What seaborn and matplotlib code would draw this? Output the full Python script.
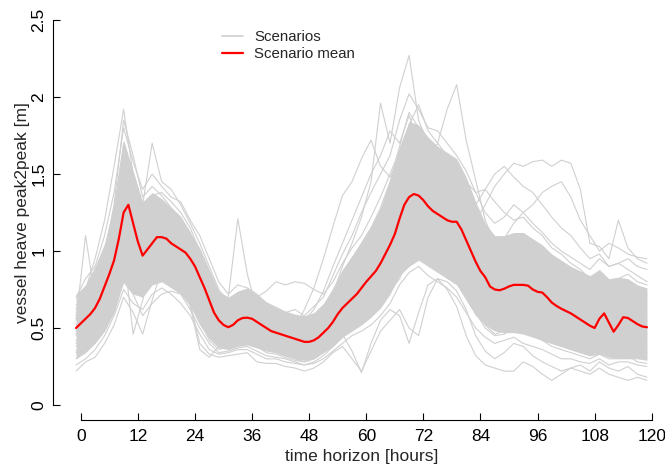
import numpy as np
import pandas as pd
import matplotlib
matplotlib.use('Agg')
import matplotlib.pyplot as plt
from matplotlib.lines import Line2D
import seaborn as sns

# ── Data ─────────────────────────────────────────────────────
hours = np.arange(0, 121)        # hourly grid for the mean
hours2 = np.arange(0, 121, 2)    # 2-hourly grid for scenarios / band

mean_heave = [
    0.50, 0.53, 0.56, 0.59, 0.63, 0.69, 0.77, 0.85, 0.94, 1.08,
    1.25, 1.30, 1.18, 1.06, 0.97, 1.01, 1.05, 1.09, 1.09, 1.08,
    1.05, 1.03, 1.01, 0.99, 0.95, 0.90, 0.83, 0.76, 0.68, 0.60,
    0.55, 0.52, 0.505, 0.52, 0.55, 0.565, 0.567, 0.56, 0.54, 0.52,
    0.50, 0.48, 0.47, 0.46, 0.45, 0.44, 0.43, 0.42, 0.41, 0.41,
    0.42, 0.44, 0.47, 0.50, 0.54, 0.59, 0.63, 0.66, 0.69, 0.72,
    0.76, 0.80, 0.835, 0.87, 0.92, 0.98, 1.04, 1.11, 1.21, 1.30,
    1.35, 1.37, 1.36, 1.33, 1.29, 1.26, 1.24, 1.22, 1.20, 1.19,
    1.19, 1.14, 1.07, 1.00, 0.93, 0.87, 0.83, 0.77, 0.75, 0.745,
    0.755, 0.77, 0.78, 0.78, 0.78, 0.775, 0.75, 0.735, 0.73, 0.70,
    0.665, 0.643, 0.625, 0.61, 0.595, 0.575, 0.555, 0.535, 0.515, 0.50,
    0.56, 0.595, 0.535, 0.476, 0.52, 0.57, 0.565, 0.545, 0.525, 0.51,
    0.505]

# dense core of the scenario bundle (lower / upper edge)
core_low = [
    0.30, 0.34, 0.40, 0.48, 0.60, 0.80, 0.72, 0.70, 0.78, 0.80,
    0.76, 0.72, 0.64, 0.52, 0.43, 0.37, 0.36, 0.38, 0.39, 0.37,
    0.35, 0.34, 0.32, 0.30, 0.29, 0.30, 0.34, 0.38, 0.44, 0.48,
    0.52, 0.57, 0.63, 0.72, 0.84, 0.90, 0.94, 0.90, 0.86, 0.82,
    0.78, 0.68, 0.58, 0.52, 0.48, 0.47, 0.47, 0.46, 0.44, 0.42,
    0.40, 0.38, 0.36, 0.34, 0.32, 0.33, 0.31, 0.30, 0.30, 0.30,
    0.29]
core_high = [
    0.72, 0.78, 0.90, 1.05, 1.30, 1.72, 1.52, 1.32, 1.38, 1.34,
    1.28, 1.22, 1.12, 1.02, 0.88, 0.74, 0.70, 0.74, 0.76, 0.72,
    0.67, 0.64, 0.61, 0.59, 0.58, 0.60, 0.66, 0.76, 0.88, 0.97,
    1.06, 1.16, 1.28, 1.46, 1.68, 1.84, 1.82, 1.74, 1.68, 1.64,
    1.60, 1.48, 1.32, 1.18, 1.10, 1.10, 1.12, 1.12, 1.08, 1.04,
    0.98, 0.94, 0.90, 0.87, 0.84, 0.88, 0.82, 0.83, 0.82, 0.78,
    0.76]

# individual scenarios (2-hourly)
scen_01 = [0.62, 0.75, 0.95, 1.20, 1.55, 1.92, 1.50, 1.30, 1.70, 1.45,
           1.40, 1.30, 1.18, 1.05, 0.90, 0.75, 0.66, 0.70, 0.72, 0.66,
           0.60, 0.55, 0.52, 0.50, 0.48, 0.50, 0.56, 0.66, 0.78, 0.88,
           1.00, 1.12, 1.25, 1.38, 1.55, 1.70, 1.62, 1.50, 1.45, 1.42,
           1.38, 1.25, 1.05, 0.92, 0.85, 0.88, 0.92, 0.90, 0.86, 0.82,
           0.76, 0.72, 0.70, 0.66, 0.62, 0.68, 0.60, 0.64, 0.68, 0.62,
           0.60]
scen_02 = [0.22, 0.28, 0.31, 0.40, 0.52, 0.70, 0.60, 0.46, 0.68, 0.88,
           0.82, 0.79, 0.66, 0.40, 0.33, 0.31, 0.32, 0.33, 0.34, 0.28,
           0.27, 0.27, 0.25, 0.24, 0.22, 0.24, 0.28, 0.34, 0.38, 0.30,
           0.22, 0.35, 0.48, 0.55, 0.62, 0.50, 0.45, 0.70, 0.82, 0.75,
           0.64, 0.45, 0.32, 0.26, 0.24, 0.22, 0.22, 0.28, 0.25, 0.20,
           0.16, 0.20, 0.24, 0.22, 0.20, 0.24, 0.20, 0.18, 0.16, 0.18,
           0.16]
scen_03 = [0.55, 1.10, 0.70, 0.78, 0.92, 1.18, 1.10, 0.95, 1.05, 1.15,
           1.10, 1.02, 0.95, 0.82, 0.68, 0.56, 0.70, 1.21, 0.85, 0.62,
           0.55, 0.52, 0.48, 0.44, 0.42, 0.46, 0.50, 0.58, 0.66, 0.74,
           0.82, 0.90, 0.98, 1.08, 1.20, 1.35, 1.30, 1.22, 1.15, 1.12,
           1.08, 0.95, 0.80, 0.70, 0.62, 0.66, 0.72, 0.68, 0.64, 0.60,
           0.55, 0.52, 0.50, 0.48, 0.46, 0.50, 0.46, 0.48, 0.52, 0.48,
           0.46]
scen_04 = [0.48, 0.55, 0.62, 0.80, 1.00, 1.35, 1.20, 0.98, 1.10, 1.15,
           1.08, 1.02, 0.96, 0.85, 0.70, 0.56, 0.50, 0.55, 0.58, 0.55,
           0.50, 0.48, 0.46, 0.45, 0.44, 0.48, 0.56, 0.72, 0.90, 1.05,
           1.22, 1.45, 1.96, 1.70, 2.06, 2.27, 1.85, 1.70, 1.62, 1.55,
           1.45, 1.30, 1.10, 0.95, 0.88, 0.90, 0.95, 0.92, 0.85, 0.80,
           0.72, 0.66, 0.62, 0.58, 0.55, 0.60, 0.56, 0.58, 0.60, 0.56,
           0.55]
scen_05 = [0.40, 0.46, 0.55, 0.68, 0.85, 1.10, 1.05, 0.90, 0.98, 1.02,
           1.00, 0.95, 0.90, 0.78, 0.62, 0.50, 0.46, 0.50, 0.52, 0.50,
           0.46, 0.44, 0.42, 0.40, 0.38, 0.40, 0.45, 0.52, 0.62, 0.70,
           0.80, 0.90, 1.02, 1.15, 1.35, 1.52, 1.60, 1.58, 1.70, 1.92,
           2.08, 1.72, 1.46, 1.20, 1.05, 1.00, 1.05, 1.10, 1.02, 0.95,
           0.88, 0.82, 0.78, 0.72, 0.68, 0.74, 0.66, 0.70, 0.72, 0.66,
           0.64]
scen_06 = [0.58, 0.64, 0.72, 0.88, 1.08, 1.40, 1.30, 1.12, 1.18, 1.22,
           1.18, 1.12, 1.05, 0.92, 0.78, 0.62, 0.58, 0.62, 0.64, 0.60,
           0.56, 0.52, 0.50, 0.48, 0.46, 0.48, 0.54, 0.64, 0.74, 0.84,
           0.95, 1.05, 1.18, 1.30, 1.48, 1.62, 1.58, 1.50, 1.44, 1.40,
           1.35, 1.28, 1.20, 1.30, 1.42, 1.50, 1.57, 1.55, 1.58, 1.59,
           1.55, 1.59, 1.57, 1.40, 1.05, 1.03, 0.95, 1.20, 1.02, 0.95,
           0.92]
scen_07 = [0.45, 0.52, 0.60, 0.72, 0.90, 1.20, 1.10, 0.92, 1.00, 1.05,
           1.02, 0.98, 0.92, 0.80, 0.65, 0.52, 0.48, 0.52, 0.54, 0.52,
           0.48, 0.46, 0.45, 0.50, 0.62, 0.76, 0.95, 1.16, 1.36, 1.45,
           1.60, 1.72, 1.55, 1.48, 1.60, 1.70, 1.62, 1.48, 1.40, 1.35,
           1.30, 1.15, 0.95, 0.82, 0.74, 0.76, 0.80, 0.78, 0.74, 0.72,
           0.66, 0.62, 0.58, 0.55, 0.52, 0.58, 0.52, 0.55, 0.58, 0.54,
           0.52]
scen_08 = [0.35, 0.40, 0.46, 0.55, 0.68, 0.90, 0.82, 0.70, 0.80, 0.86,
           0.84, 0.80, 0.74, 0.62, 0.48, 0.40, 0.38, 0.42, 0.44, 0.40,
           0.36, 0.34, 0.32, 0.30, 0.28, 0.30, 0.34, 0.40, 0.46, 0.35,
           0.21, 0.40, 0.55, 0.62, 0.58, 0.40, 0.60, 0.78, 0.82, 0.80,
           0.74, 0.62, 0.45, 0.35, 0.30, 0.34, 0.40, 0.38, 0.32, 0.28,
           0.25, 0.22, 0.24, 0.26, 0.22, 0.28, 0.24, 0.22, 0.25, 0.20,
           0.18]
scen_09 = [0.65, 0.70, 0.82, 1.00, 1.28, 1.70, 1.42, 1.20, 1.36, 1.38,
           1.32, 1.25, 1.15, 1.00, 0.82, 0.66, 0.60, 0.64, 0.66, 0.62,
           0.58, 0.55, 0.53, 0.52, 0.50, 0.54, 0.62, 0.74, 0.86, 0.95,
           1.05, 1.15, 1.28, 1.45, 1.68, 1.90, 1.80, 1.72, 1.65, 1.60,
           1.55, 1.42, 1.25, 1.10, 1.00, 1.02, 1.08, 1.05, 1.00, 0.95,
           0.90, 0.86, 0.82, 0.78, 0.74, 0.80, 0.72, 0.76, 0.80, 0.74,
           0.72]
scen_10 = [0.30, 0.36, 0.42, 0.52, 0.66, 0.88, 0.80, 0.72, 0.85, 0.90,
           0.88, 0.82, 0.72, 0.55, 0.42, 0.36, 0.38, 0.40, 0.42, 0.38,
           0.34, 0.33, 0.31, 0.29, 0.28, 0.30, 0.36, 0.44, 0.52, 0.58,
           0.62, 0.68, 0.72, 0.80, 0.92, 1.02, 1.00, 0.96, 0.92, 0.88,
           0.82, 0.72, 0.60, 0.50, 0.45, 0.46, 0.50, 0.48, 0.45, 0.42,
           0.40, 0.38, 0.36, 0.34, 0.32, 0.36, 0.32, 0.33, 0.36, 0.32,
           0.30]
scen_11 = [0.42, 0.48, 0.55, 0.68, 0.82, 1.00, 0.46, 0.68, 0.92, 1.00,
           0.96, 0.90, 0.64, 0.36, 0.31, 0.38, 0.45, 0.50, 0.52, 0.48,
           0.44, 0.42, 0.40, 0.38, 0.36, 0.38, 0.42, 0.50, 0.60, 0.68,
           0.75, 0.82, 0.90, 1.00, 1.12, 1.25, 1.20, 1.12, 1.08, 1.05,
           1.00, 0.90, 0.75, 0.62, 0.56, 0.58, 0.62, 0.60, 0.56, 0.52,
           0.48, 0.45, 0.42, 0.40, 0.38, 0.42, 0.38, 0.40, 0.42, 0.38,
           0.36]
scen_12 = [0.52, 0.58, 0.68, 0.85, 1.05, 1.45, 1.25, 1.05, 1.12, 1.20,
           1.15, 1.08, 1.00, 0.88, 0.72, 0.60, 0.56, 0.60, 0.66, 0.70,
           0.74, 0.80, 0.78, 0.80, 0.79, 0.75, 0.72, 0.80, 0.92, 1.02,
           1.10, 1.22, 1.35, 1.50, 1.65, 1.80, 1.75, 1.68, 1.60, 1.55,
           1.50, 1.40, 1.30, 1.40, 1.50, 1.55, 1.48, 1.42, 1.38, 1.30,
           1.22, 1.15, 1.10, 1.02, 0.95, 0.98, 0.90, 0.92, 0.95, 0.90,
           0.88]
scen_13 = [0.70, 0.82, 0.90, 1.10, 1.38, 1.80, 1.58, 1.40, 1.50, 1.42,
           1.35, 1.32, 1.20, 1.10, 0.95, 0.80, 0.72, 0.78, 0.76, 0.72,
           0.66, 0.62, 0.60, 0.62, 0.58, 0.64, 0.70, 0.84, 0.98, 1.10,
           1.25, 1.38, 1.50, 1.62, 1.85, 2.02, 1.92, 1.80, 1.78, 1.70,
           1.62, 1.52, 1.38, 1.25, 1.18, 1.22, 1.30, 1.25, 1.18, 1.12,
           1.05, 1.00, 0.96, 0.92, 0.88, 0.95, 0.90, 0.92, 0.88, 0.84,
           0.80]
scen_14 = [0.26, 0.30, 0.36, 0.45, 0.58, 0.75, 0.66, 0.62, 0.72, 0.76,
           0.72, 0.66, 0.58, 0.46, 0.36, 0.33, 0.34, 0.36, 0.36, 0.33,
           0.30, 0.30, 0.28, 0.27, 0.26, 0.27, 0.30, 0.35, 0.40, 0.45,
           0.48, 0.52, 0.58, 0.66, 0.78, 0.86, 0.90, 0.84, 0.80, 0.76,
           0.70, 0.60, 0.50, 0.44, 0.40, 0.42, 0.44, 0.40, 0.38, 0.36,
           0.33, 0.30, 0.30, 0.28, 0.27, 0.30, 0.26, 0.28, 0.28, 0.26,
           0.25]
scen_15 = [0.60, 0.68, 0.78, 0.98, 1.30, 1.85, 1.62, 1.35, 1.42, 1.36,
           1.28, 1.22, 1.12, 0.98, 0.85, 0.70, 0.62, 0.66, 0.70, 0.68,
           0.62, 0.58, 0.56, 0.55, 0.54, 0.56, 0.62, 0.70, 0.78, 0.90,
           1.00, 1.10, 1.22, 1.38, 1.58, 1.82, 1.95, 1.78, 1.70, 1.62,
           1.50, 1.35, 1.18, 1.05, 0.98, 1.00, 1.02, 1.00, 0.96, 0.92,
           0.88, 0.84, 0.80, 0.76, 0.72, 0.76, 0.70, 0.72, 0.74, 0.70,
           0.68]
scen_16 = [0.34, 0.38, 0.44, 0.52, 0.62, 0.80, 0.72, 0.58, 0.66, 0.72,
           0.74, 0.72, 0.62, 0.50, 0.40, 0.34, 0.35, 0.37, 0.38, 0.35,
           0.32, 0.31, 0.30, 0.28, 0.26, 0.28, 0.32, 0.38, 0.44, 0.50,
           0.56, 0.60, 0.66, 0.74, 0.82, 0.96, 1.02, 0.98, 0.95, 0.90,
           0.85, 0.75, 0.62, 0.52, 0.46, 0.48, 0.52, 0.50, 0.46, 0.42,
           0.38, 0.36, 0.34, 0.32, 0.30, 0.33, 0.30, 0.30, 0.32, 0.28,
           0.27]
scen_17 = [0.50, 0.56, 0.64, 0.78, 0.96, 1.28, 1.18, 1.00, 1.10, 1.12,
           1.10, 1.05, 0.98, 0.88, 0.74, 0.60, 0.55, 0.58, 0.60, 0.58,
           0.54, 0.50, 0.48, 0.46, 0.45, 0.46, 0.52, 0.60, 0.70, 0.78,
           0.88, 0.98, 1.10, 1.22, 1.40, 1.55, 1.50, 1.45, 1.40, 1.36,
           1.32, 1.20, 1.10, 1.02, 1.00, 1.08, 1.18, 1.25, 1.30, 1.38,
           1.42, 1.45, 1.35, 1.20, 1.10, 1.00, 1.05, 1.02, 0.98, 0.96,
           0.95]
scen_18 = [0.46, 0.62, 0.58, 0.70, 0.95, 1.38, 1.05, 0.88, 1.15, 1.30,
           1.25, 1.10, 1.02, 0.90, 0.60, 0.48, 0.52, 0.60, 0.55, 0.50,
           0.45, 0.40, 0.44, 0.40, 0.36, 0.42, 0.48, 0.56, 0.60, 0.75,
           0.85, 0.95, 1.05, 1.12, 1.30, 1.40, 1.25, 1.35, 1.28, 1.20,
           1.15, 1.00, 0.82, 0.68, 0.60, 0.62, 0.70, 0.64, 0.60, 0.55,
           0.50, 0.55, 0.48, 0.45, 0.42, 0.48, 0.40, 0.44, 0.46, 0.42,
           0.40]
scen_19 = [0.38, 0.44, 0.50, 0.60, 0.76, 1.00, 0.92, 0.80, 0.92, 0.98,
           0.95, 0.88, 0.80, 0.68, 0.55, 0.45, 0.42, 0.46, 0.48, 0.45,
           0.40, 0.38, 0.36, 0.34, 0.33, 0.35, 0.40, 0.48, 0.55, 0.60,
           0.66, 0.72, 0.80, 0.88, 0.98, 1.10, 1.12, 1.05, 1.00, 0.98,
           0.95, 0.85, 0.70, 0.58, 0.52, 0.54, 0.58, 0.56, 0.52, 0.48,
           0.45, 0.42, 0.40, 0.38, 0.36, 0.40, 0.36, 0.38, 0.40, 0.36,
           0.34]
scen_20 = [0.56, 0.60, 0.70, 0.82, 1.02, 1.50, 1.35, 1.15, 1.25, 1.28,
           1.22, 1.15, 1.08, 0.95, 0.78, 0.64, 0.60, 0.64, 0.68, 0.64,
           0.58, 0.54, 0.52, 0.52, 0.55, 0.62, 0.74, 0.90, 1.05, 1.20,
           1.35, 1.50, 1.62, 1.78, 1.70, 1.88, 1.70, 1.62, 1.58, 1.55,
           1.52, 1.45, 1.38, 1.40, 1.32, 1.25, 1.20, 1.22, 1.15, 1.10,
           1.02, 0.98, 0.92, 0.88, 0.82, 0.86, 0.80, 0.82, 0.85, 0.80,
           0.78]

scenarios = {'s01': scen_01, 's02': scen_02, 's03': scen_03, 's04': scen_04,
             's05': scen_05, 's06': scen_06, 's07': scen_07, 's08': scen_08,
             's09': scen_09, 's10': scen_10, 's11': scen_11, 's12': scen_12,
             's13': scen_13, 's14': scen_14, 's15': scen_15, 's16': scen_16,
             's17': scen_17, 's18': scen_18, 's19': scen_19, 's20': scen_20}

tick_hours = [0, 12, 24, 36, 48, 60, 72, 84, 96, 108, 120]
y_ticks = [0, 0.5, 1, 1.5, 2, 2.5]

# ── Build long table for seaborn ─────────────────────────────
scen_df = pd.concat(
    [pd.DataFrame({'hour': hours2, 'heave': vals, 'scenario': name})
     for name, vals in scenarios.items()], ignore_index=True)
mean_df = pd.DataFrame({'hour': hours, 'heave': mean_heave})

# ── Figure ───────────────────────────────────────────────────
sns.set_style('white')
plt.rcParams['font.family'] = ['Liberation Sans', 'DejaVu Sans']

grey = '#D0D0D0'
fig = plt.figure(figsize=(6.65, 4.68), dpi=100)
ax = fig.add_axes([53.2 / 665, 47.6 / 468, 616.6 / 665, 415.8 / 468])

ax.fill_between(hours2, core_low, core_high, color=grey, lw=0)
sns.lineplot(data=scen_df, x='hour', y='heave', units='scenario',
             estimator=None, color=grey, lw=0.8, ax=ax, legend=False)
sns.lineplot(data=mean_df, x='hour', y='heave', color='red', lw=1.6,
             ax=ax, legend=False)

ax.set_xlim(-4.8, 124.8)
ax.set_ylim(-0.1, 2.6)

# ticks sit one hour to the right of the index (as in the original)
ax.set_xticks([h + 1 for h in tick_hours])
ax.set_xticklabels([str(h) for h in tick_hours])
ax.set_yticks(y_ticks)
ax.set_yticklabels(['0', '0.5', '1', '1.5', '2', '2.5'])
ax.tick_params(axis='both', direction='in', length=5, width=0.8,
               labelsize=12.5, color='black', labelcolor='black',
               bottom=True, left=True)
ax.tick_params(axis='x', pad=6)
ax.tick_params(axis='y', pad=5)
for lab in ax.get_yticklabels():
    lab.set_rotation(90)
    lab.set_va('center')

for side in ['top', 'right']:
    ax.spines[side].set_visible(False)
ax.spines['left'].set_bounds(0, 2.5)
ax.spines['bottom'].set_bounds(1, 121)
for side in ['left', 'bottom']:
    ax.spines[side].set_linewidth(0.8)
    ax.spines[side].set_color('black')

ax.set_xlabel('time horizon [hours]', fontsize=12.5, labelpad=4)
ax.set_ylabel('vessel heave peak2peak [m]', fontsize=12.5, labelpad=1)

handles = [Line2D([], [], color=grey, lw=1.2),
           Line2D([], [], color='red', lw=1.6)]
fig.legend(handles, ['Scenarios', 'Scenario mean'], loc='upper left',
           bbox_to_anchor=(222 / 665, 1 - 30 / 468), frameon=False,
           fontsize=10.8, borderpad=0, borderaxespad=0, labelspacing=0.2,
           handlelength=1.4, handletextpad=0.75)

fig.savefig('out.png', dpi=100)
